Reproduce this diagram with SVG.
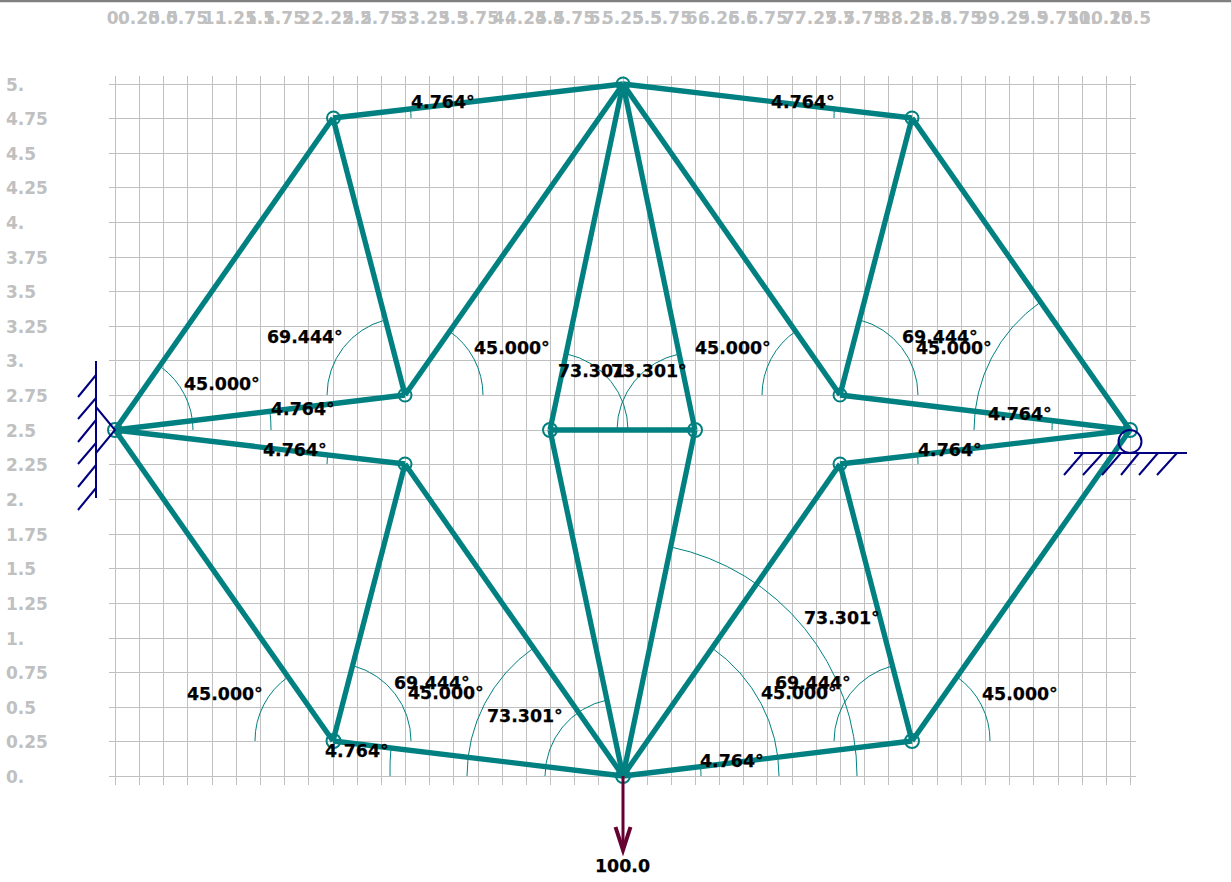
<svg xmlns="http://www.w3.org/2000/svg" width="1231" height="882" viewBox="0 0 1231 882">
<style>
.grid{fill:none;stroke:#c0c0c0;stroke-width:1;shape-rendering:crispEdges}
.member{stroke:#008080;stroke-width:5.300;fill:none}
.arc{stroke:#008080;stroke-width:1;fill:none}
.pin{stroke:#008080;stroke-width:2;fill:none}
.sup{stroke:#000080;stroke-width:2;fill:none}
.ax{font:bold 17px "DejaVu Sans",sans-serif;fill:#c0c0c0}
.tx{text-anchor:middle}
.lb{font:bold 17.4px "DejaVu Sans",sans-serif;fill:#000;stroke:#000;stroke-width:.25}
.load{stroke:#660033;stroke-width:3;fill:none}
.head{stroke:#660033;stroke-width:4;fill:none}
</style>
<rect width="1231" height="882" fill="#fff"/>
<path d="M0 1H1231" stroke="#808080" stroke-width="2"/>
<path d="M0 2.5H1231" stroke="#e0e0e0" stroke-width="1"/>
<g id="grid" class="grid">
<path d="M115.5 76V785M139.5 76V785M163.5 76V785M187.5 76V785M212.5 76V785M236.5 76V785M260.5 76V785M284.5 76V785M308.5 76V785M333.5 76V785M357.5 76V785M381.5 76V785M405.5 76V785M429.5 76V785M453.5 76V785M478.5 76V785M502.5 76V785M526.5 76V785M550.5 76V785M574.5 76V785M598.5 76V785M623.5 76V785M647.5 76V785M671.5 76V785M695.5 76V785M719.5 76V785M743.5 76V785M767.5 76V785M792.5 76V785M816.5 76V785M840.5 76V785M864.5 76V785M888.5 76V785M912.5 76V785M937.5 76V785M961.5 76V785M985.5 76V785M1009.5 76V785M1033.5 76V785M1058.5 76V785M1082.5 76V785M1106.5 76V785M1130.5 76V785"/>
<path d="M109 84.5H1136M109 118.5H1136M109 153.5H1136M109 187.5H1136M109 222.5H1136M109 257.5H1136M109 291.5H1136M109 326.5H1136M109 360.5H1136M109 395.5H1136M109 430.5H1136M109 464.5H1136M109 499.5H1136M109 534.5H1136M109 568.5H1136M109 603.5H1136M109 638.5H1136M109 672.5H1136M109 707.5H1136M109 741.5H1136M109 776.5H1136"/>
</g>
<g id="axis-x" class="ax tx">
<text x="116" y="24">0.</text><text x="139" y="24">0.25</text><text x="163" y="24">0.5</text><text x="187" y="24">0.75</text><text x="212" y="24">1.</text><text x="236" y="24">1.25</text><text x="260" y="24">1.5</text><text x="284" y="24">1.75</text><text x="308" y="24">2.</text><text x="333" y="24">2.25</text><text x="357" y="24">2.5</text><text x="381" y="24">2.75</text><text x="405" y="24">3.</text><text x="429" y="24">3.25</text><text x="453" y="24">3.5</text><text x="478" y="24">3.75</text><text x="502" y="24">4.</text><text x="526" y="24">4.25</text><text x="550" y="24">4.5</text><text x="574" y="24">4.75</text><text x="598" y="24">5.</text><text x="623" y="24">5.25</text><text x="647" y="24">5.5</text><text x="671" y="24">5.75</text><text x="695" y="24">6.</text><text x="719" y="24">6.25</text><text x="743" y="24">6.5</text><text x="767" y="24">6.75</text><text x="792" y="24">7.</text><text x="816" y="24">7.25</text><text x="840" y="24">7.5</text><text x="864" y="24">7.75</text><text x="888" y="24">8.</text><text x="912" y="24">8.25</text><text x="937" y="24">8.5</text><text x="961" y="24">8.75</text><text x="985" y="24">9.</text><text x="1009" y="24">9.25</text><text x="1033" y="24">9.5</text><text x="1058" y="24">9.75</text><text x="1082" y="24">10.</text><text x="1106" y="24">10.25</text><text x="1130" y="24">10.5</text>
</g>
<g id="axis-y" class="ax">
<text x="6" y="91">5.</text><text x="6" y="125">4.75</text><text x="6" y="160">4.5</text><text x="6" y="194">4.25</text><text x="6" y="229">4.</text><text x="6" y="264">3.75</text><text x="6" y="298">3.5</text><text x="6" y="333">3.25</text><text x="6" y="367">3.</text><text x="6" y="402">2.75</text><text x="6" y="437">2.5</text><text x="6" y="471">2.25</text><text x="6" y="506">2.</text><text x="6" y="541">1.75</text><text x="6" y="575">1.5</text><text x="6" y="610">1.25</text><text x="6" y="645">1.</text><text x="6" y="679">0.75</text><text x="6" y="714">0.5</text><text x="6" y="748">0.25</text><text x="6" y="783">0.</text>
</g>
<g id="angle-arcs" class="arc">
<path d="M193 430A78 78 0 0 0 161 367"/>
<path d="M271 430A156 156 0 0 0 270 412"/>
<path d="M327 464A78 78 0 0 1 328 454"/>
<path d="M411 118A78 78 0 0 0 410.5 109"/>
<path d="M834 118A78 78 0 0 1 834.5 109"/>
<path d="M1052 430A78 78 0 0 1 1052.5 421"/>
<path d="M918 464A78 78 0 0 0 917.5 455"/>
<path d="M390 776A233 233 0 0 1 391 748"/>
<path d="M701 776A78 78 0 0 0 700.5 767"/>
<path d="M483 395A78 78 0 0 0 449 331"/>
<path d="M327 395A78 78 0 0 1 385 320"/>
<path d="M628 430A78 78 0 0 0 567 354"/>
<path d="M617 430A78 78 0 0 1 679 354"/>
<path d="M762 395A78 78 0 0 1 796 331"/>
<path d="M918 395A78 78 0 0 0 860 320"/>
<path d="M974 430A156 156 0 0 1 1040.5 302"/>
<path d="M255 741A78 78 0 0 1 288 677"/>
<path d="M411 741A78 78 0 0 0 354 666"/>
<path d="M467 776A156 156 0 0 1 533.5 648"/>
<path d="M545 776A78 78 0 0 1 607 700"/>
<path d="M779 776A156 156 0 0 0 712 648"/>
<path d="M857 776A234 234 0 0 0 671 547"/>
<path d="M834 741A78 78 0 0 1 892 666"/>
<path d="M990 741A78 78 0 0 0 957 677"/>
</g>
<g id="connectors" class="member">
<path d="M115 430L333 118"/><path d="M115 430L405 395"/><path d="M115 430L405 464"/><path d="M115 430L333 741"/>
<path d="M333 118L623 84"/><path d="M333 118L405 395"/><path d="M405 395L623 84"/>
<path d="M623 84L912 118"/><path d="M912 118L840 395"/><path d="M840 395L623 84"/>
<path d="M912 118L1130 430"/><path d="M840 395L1130 430"/><path d="M1130 430L840 464"/><path d="M1130 430L912 741"/>
<path d="M840 464L623 776"/><path d="M840 464L912 741"/><path d="M912 741L623 776"/>
<path d="M623 776L333 741"/><path d="M333 741L405 464"/><path d="M405 464L623 776"/>
<path d="M550 430L623 84"/><path d="M695 430L623 84"/><path d="M550 430L695 430"/><path d="M550 430L623 776"/><path d="M695 430L623 776"/>
</g>
<g id="node-a"><circle class="pin" cx="115" cy="430" r="7"/></g>
<g id="node-b"><circle class="pin" cx="333.500" cy="118" r="6.500"/></g>
<g id="node-c"><circle class="pin" cx="623" cy="84" r="6.500"/></g>
<g id="node-d"><circle class="pin" cx="912" cy="118" r="6.500"/></g>
<g id="node-e"><circle class="pin" cx="1130" cy="430" r="7"/></g>
<g id="node-f"><circle class="pin" cx="405" cy="395" r="6.500"/></g>
<g id="node-g"><circle class="pin" cx="405" cy="464" r="6.500"/></g>
<g id="node-h"><circle class="pin" cx="333.500" cy="741" r="7"/></g>
<g id="node-i"><circle class="pin" cx="623" cy="776" r="7"/></g>
<g id="node-j"><circle class="pin" cx="912" cy="741" r="7"/></g>
<g id="node-k"><circle class="pin" cx="840" cy="395" r="6.500"/></g>
<g id="node-l"><circle class="pin" cx="840" cy="464" r="6.500"/></g>
<g id="node-m"><circle class="pin" cx="550" cy="430" r="7"/></g>
<g id="node-n"><circle class="pin" cx="695" cy="430" r="7"/></g>
<g id="support-left" class="sup">
<path d="M96 361V498"/>
<path d="M96 375L78 397M96 398L78 419M96 420L78 442M96 443L78 464M96 465L78 487M96 488L78 510"/>
<path d="M96 407L115 430L96 453"/>
</g>
<g id="support-right" class="sup">
<circle cx="1130" cy="441.500" r="11.500"/>
<path d="M1074 453H1187"/>
<path d="M1083 453L1064 475M1103 453L1083 475M1121 453L1102 475M1139 453L1121 475M1158 453L1139 475M1177 453L1157 475"/>
</g>
<g id="load">
<path class="load" d="M623 776V850"/>
<path class="head" d="M615.500 827L623 850L630.500 827"/>
<text class="lb" x="595" y="872">100.0</text>
</g>
<g id="angle-labels" class="lb">
<text x="411" y="108">4.764°</text>
<text x="771" y="108">4.764°</text>
<text x="184" y="390">45.000°</text>
<text x="271" y="415">4.764°</text>
<text x="263" y="456">4.764°</text>
<text x="267" y="343">69.444°</text>
<text x="474" y="354">45.000°</text>
<text x="558" y="377">73.301°</text>
<text x="611" y="377">73.301°</text>
<text x="695" y="354">45.000°</text>
<text x="902" y="343">69.444°</text>
<text x="916" y="354">45.000°</text>
<text x="988" y="420">4.764°</text>
<text x="918" y="456">4.764°</text>
<text x="804" y="624">73.301°</text>
<text x="394" y="689">69.444°</text>
<text x="408" y="699">45.000°</text>
<text x="487" y="722">73.301°</text>
<text x="325" y="757">4.764°</text>
<text x="187" y="700">45.000°</text>
<text x="775" y="689">69.444°</text>
<text x="761" y="699">45.000°</text>
<text x="700" y="767">4.764°</text>
<text x="982" y="700">45.000°</text>
</g>
</svg>
